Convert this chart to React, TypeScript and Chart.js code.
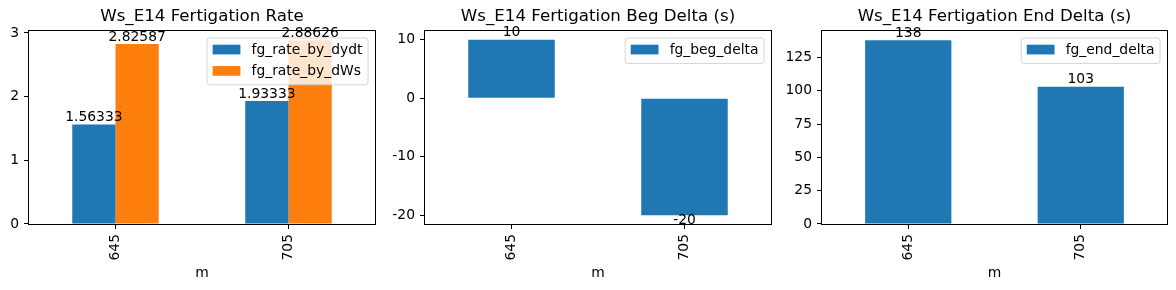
import React, { useEffect, useRef } from "react";
import { Chart, registerables } from "chart.js";
Chart.register(...registerables);

// ---- data ----
const categories = ["645", "705"];
const rateByDydt = [1.56333, 1.93333];
const rateByDWs = [2.82587, 2.88626];
const begDelta = [10, -20];
const endDelta = [138, 103];
const rateTicks = [0, 1, 2, 3];
const begTicks = [-20, -10, 0, 10];
const endTicks = [0, 25, 50, 75, 100, 125];
const xAxisTitle = "m";
const titles = [
  "Ws_E14 Fertigation Rate",
  "Ws_E14 Fertigation Beg Delta (s)",
  "Ws_E14 Fertigation End Delta (s)",
];

const BLUE = "#1f77b4";
const ORANGE = "#ff7f0e";
const FAMILY = '"DejaVu Sans", sans-serif';
const FS = 13.89;

type Series = { label: string; data: number[]; color: string };
type Panel = {
  title: string;
  series: Series[];
  ticks: number[];
  left: number;
  width: number;
  yWidth: number;
  padRight: number;
};

const panels: Panel[] = [
  {
    title: titles[0],
    series: [
      { label: "fg_rate_by_dydt", data: rateByDydt, color: BLUE },
      { label: "fg_rate_by_dWs", data: rateByDWs, color: ORANGE },
    ],
    ticks: rateTicks,
    left: 0,
    width: 388,
    yWidth: 29,
    padRight: 13,
  },
  {
    title: titles[1],
    series: [{ label: "fg_beg_delta", data: begDelta, color: BLUE }],
    ticks: begTicks,
    left: 388,
    width: 392,
    yWidth: 37,
    padRight: 9,
  },
  {
    title: titles[2],
    series: [{ label: "fg_end_delta", data: endDelta, color: BLUE }],
    ticks: endTicks,
    left: 780,
    width: 396,
    yWidth: 42,
    padRight: 9,
  },
];

function limits(series: Series[]) {
  const all = series.flatMap((s) => s.data).concat([0]);
  const lo = Math.min(...all);
  const hi = Math.max(...all);
  const m = 0.05 * (hi - lo);
  return { min: lo < 0 ? lo - m : 0, max: hi > 0 ? hi + m : 0 };
}

function fmtG(v: number) {
  return String(Number(v.toPrecision(6)));
}

const decorPlugin = {
  id: "decor",
  afterDraw(chart: any) {
    const ctx = chart.ctx as CanvasRenderingContext2D;
    const ca = chart.chartArea;
    ctx.save();
    // frame
    ctx.strokeStyle = "#000";
    ctx.lineWidth = 1;
    const l = Math.round(ca.left) - 0.5;
    const t = Math.round(ca.top) - 0.5;
    const r = Math.round(ca.right) + 0.5;
    const b = Math.round(ca.bottom) + 0.5;
    ctx.strokeRect(l, t, r - l, b - t);

    // bar labels
    ctx.font = `${FS}px ${FAMILY}`;
    ctx.fillStyle = "#000";
    ctx.textAlign = "center";
    chart.data.datasets.forEach((ds: any, di: number) => {
      const meta = chart.getDatasetMeta(di);
      meta.data.forEach((bar: any, i: number) => {
        const v = ds.data[i] as number;
        const { x, y } = bar.getProps(["x", "y"], true);
        if (v >= 0) {
          ctx.textBaseline = "bottom";
          ctx.fillText(fmtG(v), x, y);
        } else {
          ctx.textBaseline = "top";
          ctx.fillText(fmtG(v), x, y - 1.8);
        }
      });
    });

    // legend (matplotlib style, upper right)
    const items = chart.data.datasets.map((ds: any) => ({
      label: ds.label,
      color: ds.backgroundColor,
    }));
    const bp = 0.4 * FS;
    const hl = 2 * FS;
    const htp = 0.8 * FS;
    const rowH = 14.4;
    const ls = 0.5 * FS;
    const tw = Math.max(...items.map((it: any) => ctx.measureText(it.label).width));
    const w = 2 * bp + hl + htp + tw;
    const h = 2 * bp + items.length * rowH + (items.length - 1) * ls;
    const x0 = ca.right - 0.5 * FS - w;
    const y0 = ca.top + 0.5 * FS;
    ctx.beginPath();
    (ctx as any).roundRect(x0, y0, w, h, 0.2 * FS);
    ctx.fillStyle = "rgba(255,255,255,0.8)";
    ctx.fill();
    ctx.strokeStyle = "rgba(204,204,204,0.8)";
    ctx.lineWidth = 1;
    ctx.stroke();
    items.forEach((it: any, i: number) => {
      const rowTop = y0 + bp + i * (rowH + ls);
      ctx.fillStyle = it.color;
      ctx.fillRect(x0 + bp, rowTop + 1.2, hl, 0.7 * FS);
      ctx.fillStyle = "#000";
      ctx.textAlign = "left";
      ctx.textBaseline = "alphabetic";
      ctx.fillText(it.label, x0 + bp + hl + htp, rowTop + 10.2);
    });
    ctx.restore();
  },
};

function PanelChart({ panel }: { panel: Panel }) {
  const ref = useRef<HTMLCanvasElement | null>(null);
  useEffect(() => {
    if (!ref.current) return;
    const { min, max } = limits(panel.series);
    const font = { family: FAMILY, size: FS, weight: "normal" as const };
    const grid = {
      display: true,
      drawOnChartArea: false,
      drawTicks: true,
      tickLength: 5,
      color: "#000",
      lineWidth: 1,
      offset: false,
    };
    const chart = new Chart(ref.current, {
      type: "bar",
      data: {
        labels: categories,
        datasets: panel.series.map((s) => ({
          label: s.label,
          data: s.data,
          backgroundColor: s.color,
          borderWidth: 0,
          inflateAmount: 0,
          categoryPercentage: 0.5,
          barPercentage: 1.0,
        })),
      },
      options: {
        animation: false,
        responsive: false,
        maintainAspectRatio: false,
        devicePixelRatio: 1,
        events: [],
        layout: { padding: { left: 0, right: panel.padRight, top: 0, bottom: 0 } },
        plugins: {
          legend: { display: false },
          tooltip: { enabled: false },
          title: {
            display: true,
            text: panel.title,
            fullSize: false,
            color: "#000",
            font: { family: FAMILY, size: 16.67, weight: "normal", lineHeight: 1.2 },
            padding: { top: 7, bottom: 4 },
          },
        },
        scales: {
          x: {
            type: "category",
            offset: true,
            grid,
            border: { display: false },
            ticks: {
              minRotation: 90,
              maxRotation: 90,
              autoSkip: false,
              padding: 5,
              color: "#000",
              font,
            },
            title: {
              display: true,
              text: xAxisTitle,
              color: "#000",
              font,
              padding: { top: 0, bottom: 8 },
            },
            afterFit: (s: any) => {
              s.height = 66;
            },
          },
          y: {
            type: "linear",
            min,
            max,
            grid,
            border: { display: false },
            afterBuildTicks: (s: any) => {
              s.ticks = panel.ticks.map((v) => ({ value: v }));
            },
            ticks: {
              padding: 5,
              color: "#000",
              font,
              callback: (v: any) => String(v),
            },
            afterFit: (s: any) => {
              s.width = panel.yWidth;
            },
          },
        },
      } as any,
      plugins: [decorPlugin],
    });
    return () => chart.destroy();
  }, [panel]);
  return (
    <canvas
      ref={ref}
      width={panel.width}
      height={290}
      style={{ position: "absolute", left: panel.left, top: 0, width: panel.width, height: 290 }}
    />
  );
}

export default function App() {
  return (
    <div
      style={{
        position: "absolute",
        left: 0,
        top: 0,
        width: 1176,
        height: 290,
        background: "#fff",
        overflow: "hidden",
      }}
    >
      {panels.map((p, i) => (
        <PanelChart key={i} panel={p} />
      ))}
    </div>
  );
}
